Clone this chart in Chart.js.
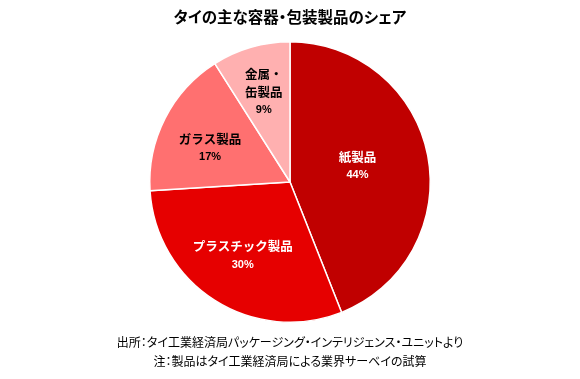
<!DOCTYPE html>
<html lang="ja">
<head>
<meta charset="utf-8">
<script src="https://cdn.jsdelivr.net/npm/chart.js@4/dist/chart.umd.min.js"></script>
<style>
  html, body { margin: 0; padding: 0; background: #ffffff; }
  #wrap { position: relative; width: 580px; height: 379px; overflow: hidden; }
  #chart { position: absolute; left: 0; top: 0; }
  .txt { position: absolute; left: 0; width: 580px; text-align: center; color: #000;
         font-family: "Noto Sans CJK JP", "Noto Sans", sans-serif; font-feature-settings: "palt"; white-space: nowrap; }
  #title { top: 5px; font-size: 15.5px; font-weight: bold; line-height: 22px; }
  #note1 { top: 333px; font-size: 12px; line-height: 18px; }
  #note2 { top: 352px; font-size: 12px; line-height: 18px; }
</style>
</head>
<body>
<div id="wrap">
  <canvas id="chart" width="580" height="379"></canvas>
  <div class="txt" id="title">タイの主な容器・包装製品のシェア</div>
  <div class="txt" id="note1">出所：タイ工業経済局パッケージング・インテリジェンス・ユニットより</div>
  <div class="txt" id="note2">注：製品はタイ工業経済局による業界サーベイの試算</div>
</div>
<script>
// ---- data ----
const categories = ["紙製品", "プラスチック製品", "ガラス製品", "金属・缶製品"];
const labelLines = [["紙製品"], ["プラスチック製品"], ["ガラス製品"], ["金属・", "缶製品"]];
const shares = [44, 30, 17, 9];
const percentLabels = ["44%", "30%", "17%", "9%"];

// ---- styles ----
const sliceColors = ["#C00000", "#E60000", "#FF7070", "#FFB0B0"];
const labelColors = ["#ffffff", "#ffffff", "#000000", "#000000"];
const labelRadiusFrac = [0.49, 0.63, 0.64, 0.67];
const labelNudgeY = [-3, -1, 7, 0];

const sliceLabels = {
  id: "sliceLabels",
  afterDatasetsDraw(chart) {
    const ctx = chart.ctx;
    const meta = chart.getDatasetMeta(0);
    meta.data.forEach((arc, i) => {
      const p = arc.getProps(["x", "y", "startAngle", "endAngle", "outerRadius"], true);
      const mid = (p.startAngle + p.endAngle) / 2;
      const r = p.outerRadius * labelRadiusFrac[i];
      const cx = p.x + Math.cos(mid) * r;
      const cy = p.y + Math.sin(mid) * r + labelNudgeY[i];
      const lines = labelLines[i].concat([percentLabels[i]]);
      const lh = 18;
      const top = cy - (lines.length - 1) * lh / 2;
      ctx.save();
      ctx.fillStyle = labelColors[i];
      ctx.textAlign = "center";
      ctx.textBaseline = "middle";
      lines.forEach((t, k) => {
        const isPct = k === lines.length - 1;
        ctx.font = isPct ? 'bold 11px "Liberation Sans", Arial, sans-serif'
                         : 'bold 12.5px "Noto Sans CJK JP", sans-serif';
        ctx.fillText(t, cx, top + k * lh);
      });
      ctx.restore();
    });
  }
};

new Chart(document.getElementById("chart"), {
  type: "pie",
  data: {
    labels: categories,
    datasets: [{
      data: shares,
      backgroundColor: sliceColors,
      borderColor: "#ffffff",
      borderWidth: 1.5
    }]
  },
  options: {
    responsive: false,
    animation: false,
    layout: { padding: { top: 41, bottom: 56, left: 0, right: 0 } },
    plugins: {
      legend: { display: false },
      tooltip: { enabled: false },
      title: { display: false }
    }
  },
  plugins: [sliceLabels]
});
</script>
</body>
</html>
